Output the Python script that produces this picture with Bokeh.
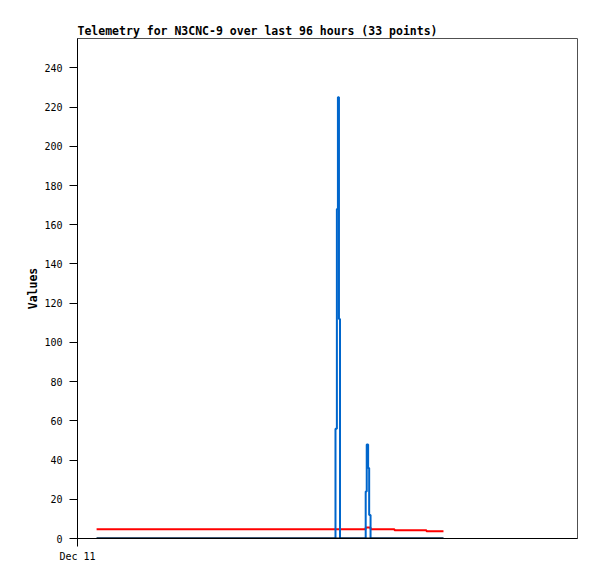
from bokeh.plotting import figure
from bokeh.models import Range1d, FixedTicker
from bokeh.embed import file_html
from bokeh.resources import INLINE

# hours after Dec 11 00:00
times = [5.5, 9, 12.5, 16, 19.5, 23, 26.5, 30, 33.5, 37, 40.5, 44, 47.5, 51, 54.5,
         58, 61.5, 65, 68.5, 72, 74.3, 74.7, 75.0, 75.3, 75.6, 83.0, 83.3, 83.7,
         84.0, 84.4, 91.3, 100.5, 105.4]
blue_vals = [0] * 20 + [56, 168, 225, 112, 0, 24, 48, 36, 12, 0, 0, 0, 0]
red_vals = [4.7] * 25 + [5.6, 5.6, 5.6, 5.6, 4.7, 4.2, 3.7, 3.7]
black_vals = [0] * 33

y_ticks = list(range(0, 241, 20))
x_ticks = [0]
x_tick_labels = ["Dec 11"]

p = figure(width=589, height=571, output_backend="svg", toolbar_location=None,
           x_range=Range1d(0, 144), y_range=Range1d(0, 255),
           min_border_left=77, min_border_right=12, min_border_top=38,
           min_border_bottom=33)

p.title.text = "Telemetry for N3CNC-9 over last 96 hours (33 points)"
p.title.text_font = "DejaVu Sans Mono"
p.title.text_font_size = "11.5px"
p.title.text_font_style = "bold"
p.title.text_color = "black"
p.title.align = "left"
p.title.offset = 0
p.title.standoff = 2

p.step(times, red_vals, mode="after", line_color="#FF0000", line_width=2)
p.step(times, blue_vals, mode="after", line_color="#0066CC", line_width=2)
p.step(times, black_vals, mode="after", line_color="#000000", line_width=2)

p.xgrid.visible = False
p.ygrid.visible = False
p.outline_line_color = "#505050"
p.outline_line_width = 1

for ax in (p.xaxis[0], p.yaxis[0]):
    ax.axis_line_color = "black"
    ax.major_tick_line_color = "black"
    ax.major_tick_out = 8
    ax.major_tick_in = 0
    ax.minor_tick_line_color = None
    ax.major_label_text_font = "DejaVu Sans Mono"
    ax.major_label_text_font_size = "10px"
    ax.major_label_text_color = "black"

p.yaxis[0].ticker = FixedTicker(ticks=y_ticks)
p.yaxis[0].major_label_standoff = 7
p.yaxis[0].axis_label = "Values"
p.yaxis[0].axis_label_text_font = "DejaVu Sans Mono"
p.yaxis[0].axis_label_text_font_size = "11.5px"
p.yaxis[0].axis_label_text_font_style = "bold"
p.yaxis[0].axis_label_text_color = "black"
p.yaxis[0].axis_label_standoff = 1

p.xaxis[0].ticker = FixedTicker(ticks=x_ticks)
p.xaxis[0].major_label_overrides = {t: l for t, l in zip(x_ticks, x_tick_labels)}
p.xaxis[0].major_label_standoff = 4

open("out.html", "w").write(file_html(p, INLINE))
